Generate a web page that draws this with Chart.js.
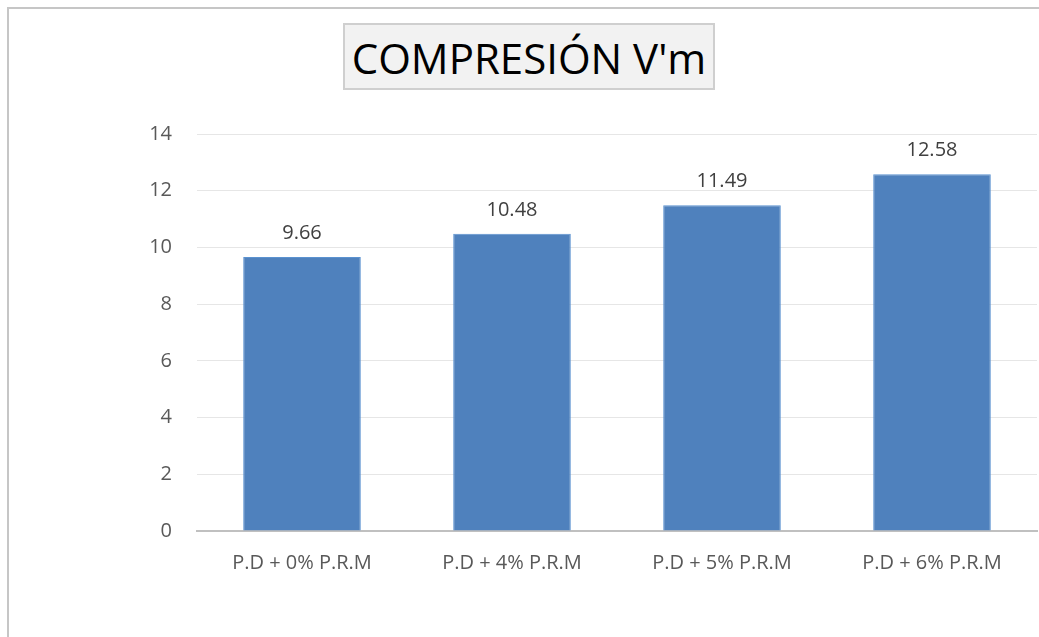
<!DOCTYPE html>
<html>
<head>
<meta charset="utf-8">
<script src="https://cdn.jsdelivr.net/npm/chart.js@4.4.1/dist/chart.umd.min.js"></script>
<style>
  html, body { margin: 0; padding: 0; background: #ffffff; overflow: hidden; }
  #frame { position: absolute; left: 7px; top: 7px; width: 1100px; height: 700px; border: 2px solid #c6c6c6; box-sizing: border-box; }
  #wrap { position: absolute; left: 0; top: 0; width: 1039px; height: 637px; }
  #title { position: absolute; left: 343px; top: 23px; width: 372px; height: 67px; box-sizing: border-box;
           border: 2px solid #cfcfcf; background: #f2f2f2; color: #000; font-family: "Open Sans", sans-serif;
           font-size: 42px; line-height: 66px; text-align: center; white-space: nowrap; }
</style>
</head>
<body>
<div id="frame"></div>
<div id="wrap"><canvas id="c" width="1039" height="637"></canvas></div>
<div id="title">COMPRESIÓN V'm</div>
<script>
const categories = ["P.D + 0% P.R.M", "P.D + 4% P.R.M", "P.D + 5% P.R.M", "P.D + 6% P.R.M"];
const values = [9.66, 10.48, 11.49, 12.58];
const yTicks = [0, 2, 4, 6, 8, 10, 12, 14];

const valueLabels = {
  id: 'valueLabels',
  afterDatasetsDraw(chart) {
    const ctx = chart.ctx;
    const meta = chart.getDatasetMeta(0);
    ctx.save();
    ctx.font = '20px "Open Sans", sans-serif';
    ctx.fillStyle = '#404040';
    ctx.textAlign = 'center';
    ctx.textBaseline = 'middle';
    meta.data.forEach((bar, i) => {
      ctx.fillText(values[i].toFixed(2), bar.x, bar.y - 24);
    });
    ctx.restore();
  }
};

new Chart(document.getElementById('c'), {
  type: 'bar',
  data: {
    labels: categories,
    datasets: [{
      data: values,
      backgroundColor: '#4f81bd',
      borderColor: '#5b92d0',
      borderWidth: 1,
      barPercentage: 0.56,
      categoryPercentage: 1.0
    }]
  },
  options: {
    responsive: false,
    animation: false,
    layout: { padding: { top: 134, right: 2, left: 0, bottom: 0 } },
    plugins: { legend: { display: false }, title: { display: false }, tooltip: { enabled: false } },
    scales: {
      x: {
        grid: { display: false, drawTicks: false },
        border: { display: true, color: '#c0c0c0', width: 2 },
        ticks: { color: '#595959', font: { family: '"Open Sans", sans-serif', size: 20 }, padding: 20, maxRotation: 0 },
        afterFit(scale) { scale.height = 637 - 531; }
      },
      y: {
        min: 0, max: 14,
        afterBuildTicks(scale) { scale.ticks = yTicks.map(v => ({ value: v })); },
        grid: { color: '#e6e6e6', lineWidth: 1, drawTicks: false },
        border: { display: false },
        ticks: { color: '#595959', font: { family: '"Open Sans", sans-serif', size: 20 }, padding: 25 },
        afterFit(scale) { scale.width = 197; }
      }
    }
  },
  plugins: [valueLabels]
});
</script>
</body>
</html>
